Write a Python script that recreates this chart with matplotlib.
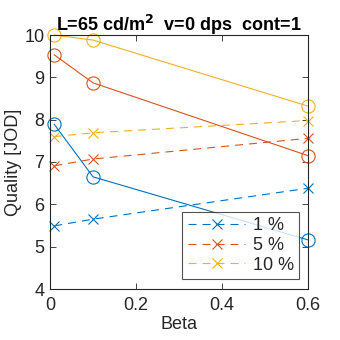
import matplotlib
matplotlib.use("Agg")
import matplotlib.pyplot as plt

plt.rcParams['font.family'] = ['Liberation Sans', 'DejaVu Sans']

beta = [0.01, 0.1, 0.6]
labels = ['1 %', '5 %', '10 %']
solid_1 = [7.89, 6.65, 5.16]
solid_5 = [9.53, 8.87, 7.15]
solid_10 = [10.0, 9.88, 8.32]
dash_1 = [5.49, 5.65, 6.38]
dash_5 = [6.91, 7.07, 7.56]
dash_10 = [7.60, 7.69, 7.98]
colors = ['#0072BD', '#D95319', '#EDB120']
xticks = [0, 0.2, 0.4, 0.6]
yticks = [4, 5, 6, 7, 8, 9, 10]

FS = 13
fig = plt.figure(figsize=(3.4, 3.4), dpi=100)
ax = fig.add_axes([50/340, 51/340, 258/340, 254/340])

tc = '#262626'
handles = []
for s, d, c, lab in zip([solid_1, solid_5, solid_10], [dash_1, dash_5, dash_10], colors, labels):
    ax.plot(beta, s, '-', color=c, lw=0.8, marker='o', ms=9.5, mfc='none', mew=0.8, clip_on=False)
    h, = ax.plot(beta, d, color=c, lw=0.8, marker='x', ms=7, mew=0.8, clip_on=False,
                 linestyle=(0, (7.2, 5.4)), label=lab)
    handles.append(h)

ax.set_xlim(0, 0.6)
ax.set_ylim(4, 10)
ax.set_xticks(xticks)
ax.set_xticklabels(['0', '0.2', '0.4', '0.6'])
ax.set_yticks(yticks)
ax.tick_params(direction='in', top=True, right=True, length=4, width=0.6, colors=tc,
               labelsize=FS)
ax.tick_params(axis='x', pad=6)
ax.tick_params(axis='y', pad=4)
for sp in ax.spines.values():
    sp.set_linewidth(0.8)
    sp.set_color(tc)
ax.set_xlabel('Beta', fontsize=FS, color=tc, labelpad=1)
ax.set_ylabel('Quality [JOD]', fontsize=FS, color=tc, labelpad=2)
ax.set_title('L=65 cd/m$^\\mathbf{2}$  v=0 dps  cont=1', fontsize=FS, fontweight='bold',
             color='black', pad=3)

leg = ax.legend(handles=handles, loc='lower right', bbox_to_anchor=(0.966, 0.039),
                fontsize=FS, frameon=True, fancybox=False, edgecolor=tc, handlelength=3.2,
                borderaxespad=0, borderpad=0.3, labelspacing=0.15, handletextpad=0.4)
leg.get_frame().set_linewidth(0.8)
for t in leg.get_texts():
    t.set_color(tc)

fig.savefig('out.png', dpi=100)
